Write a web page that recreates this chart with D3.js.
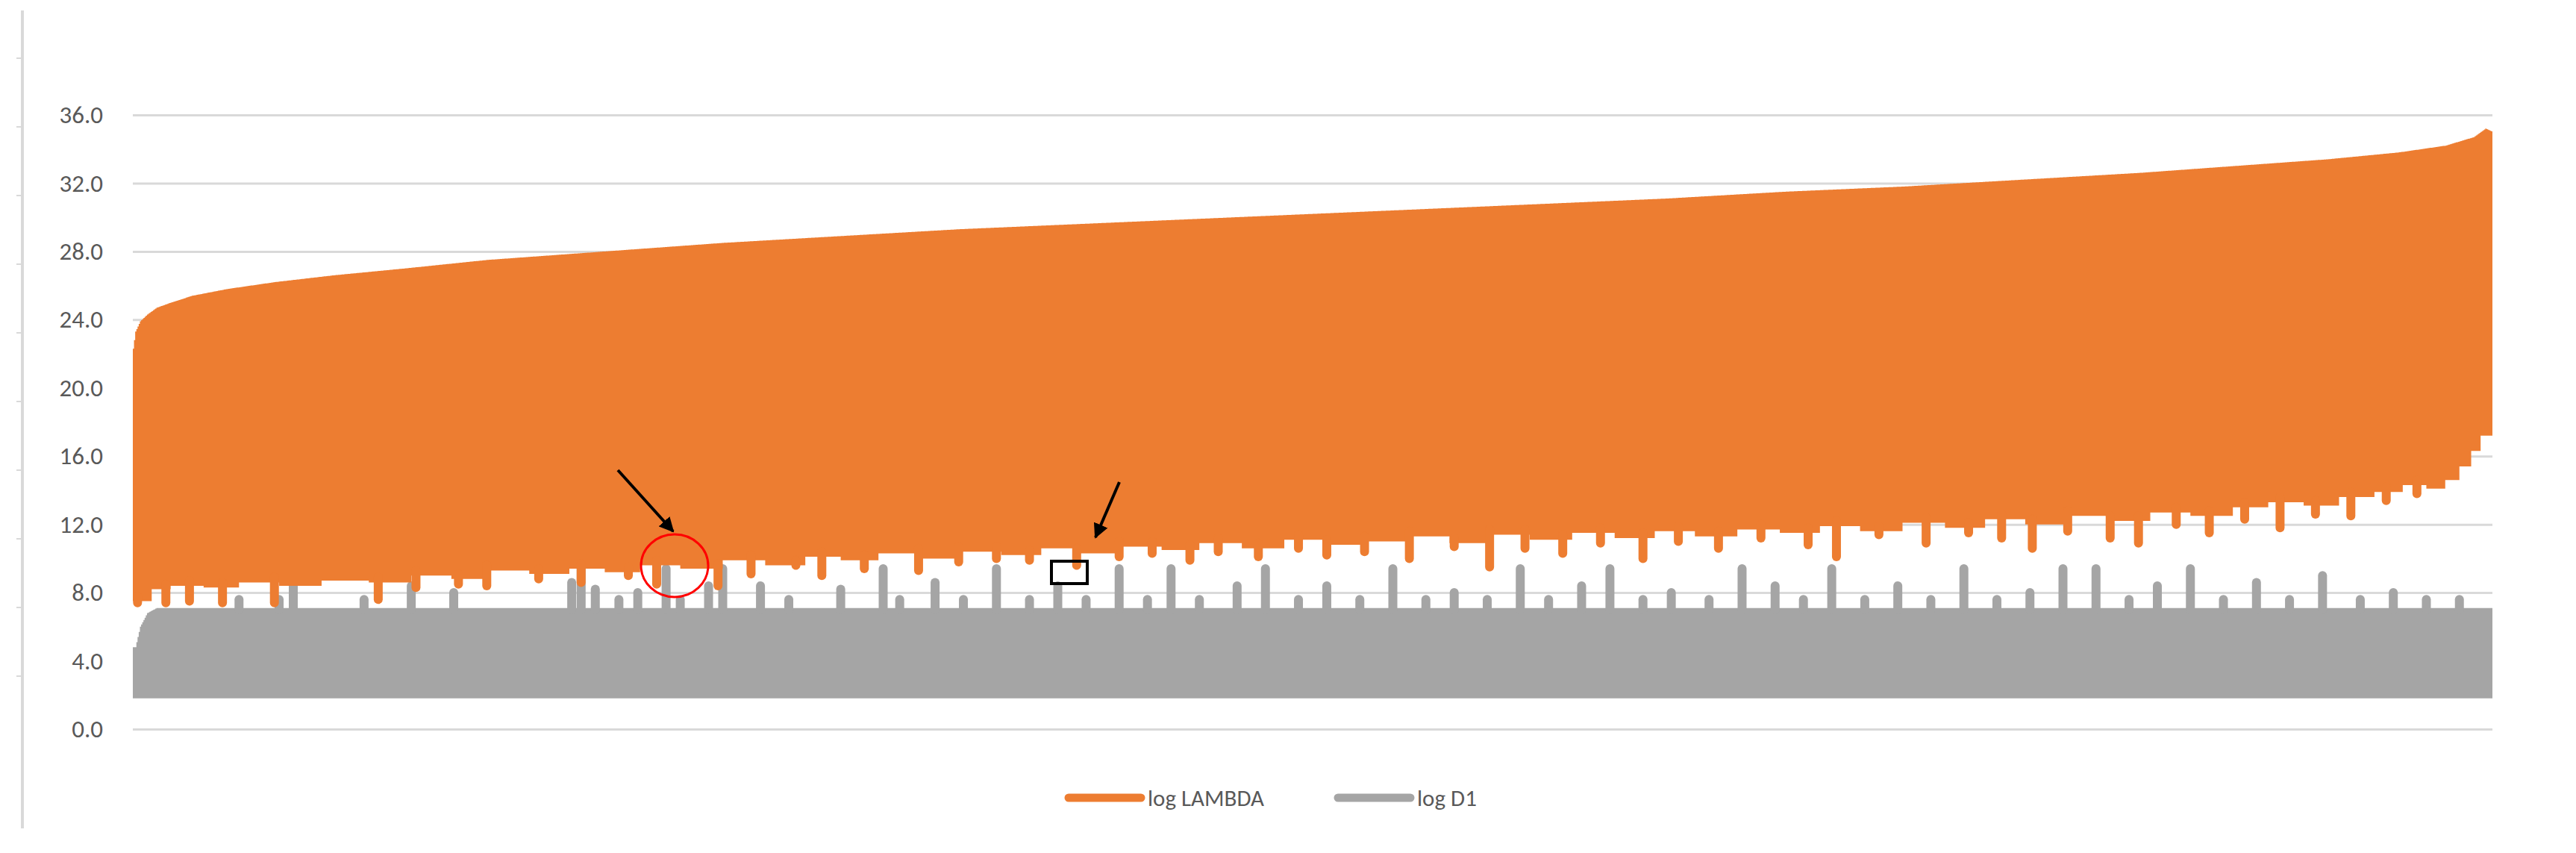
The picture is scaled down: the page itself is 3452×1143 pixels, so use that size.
<!DOCTYPE html>
<html><head><meta charset="utf-8">
<script src="https://cdn.jsdelivr.net/npm/d3@7"></script>
<style>body{margin:0;background:#fff}text{font-family:Calibri,Carlito,"Liberation Sans",sans-serif}</style>
</head><body><div class="chart"></div>
<script>
// observation index runs 0..1000
const yTicks = [0, 4, 8, 12, 16, 20, 24, 28, 32, 36];
const seriesNames = ["log LAMBDA", "log D1"];

// upper envelope of log LAMBDA
const lambdaTopIdx = [0, 1, 3, 6, 10, 16, 25, 40, 60, 85, 115, 150, 200, 250, 300, 350, 400, 450, 500, 550, 600, 650, 700, 750, 800, 850, 900, 930, 960, 980, 992, 997, 1000];
const lambdaTopVal = [22.3, 23.3, 23.9, 24.3, 24.7, 25.0, 25.4, 25.8, 26.2, 26.6, 27.0, 27.5, 28.0, 28.5, 28.9, 29.3, 29.6, 29.9, 30.2, 30.5, 30.8, 31.1, 31.5, 31.8, 32.2, 32.6, 33.1, 33.4, 33.8, 34.2, 34.7, 35.2, 35.0];
// lower envelope of log LAMBDA (plateaus, stepped)
const lambdaLowIdx = [0, 8, 16, 30, 45, 62, 80, 100, 118, 135, 150, 168, 185, 200, 215, 232, 250, 268, 285, 300, 316, 334, 350, 368, 385, 400, 418, 436, 452, 470, 488, 505, 522, 540, 558, 575, 592, 610, 628, 645, 662, 680, 698, 715, 732, 750, 768, 785, 802, 820, 838, 855, 872, 890, 905, 920, 935, 950, 962, 972, 980, 986, 991, 995, 1000];
const lambdaLowVal = [7.5, 8.2, 8.4, 8.3, 8.6, 8.4, 8.7, 8.6, 9.0, 8.8, 9.3, 9.1, 9.4, 9.2, 9.6, 9.4, 9.9, 9.6, 10.1, 9.9, 10.3, 10.0, 10.4, 10.2, 10.6, 10.3, 10.7, 10.5, 10.9, 10.6, 11.1, 10.8, 11.0, 11.3, 10.9, 11.4, 11.1, 11.5, 11.2, 11.6, 11.3, 11.7, 11.5, 11.9, 11.6, 12.1, 11.8, 12.3, 12.0, 12.5, 12.2, 12.7, 12.5, 13.0, 13.3, 13.1, 13.6, 13.9, 14.3, 14.1, 14.6, 15.4, 16.3, 17.2, 18.5];
// narrow downward spikes of log LAMBDA [index, value]
const lambdaDipIdx = [2, 14, 24, 38, 60, 104, 120, 138, 150, 172, 190, 210, 222, 248, 262, 281, 292, 310, 333, 350, 366, 380, 400, 418, 432, 448, 460, 477, 494, 506, 522, 541, 560, 575, 590, 606, 622, 640, 655, 672, 690, 710, 722, 740, 760, 778, 792, 805, 820, 838, 850, 866, 880, 895, 910, 925, 940, 955, 968];
const lambdaDipVal = [7.4, 7.4, 7.5, 7.4, 7.4, 7.6, 8.3, 8.5, 8.4, 8.8, 8.6, 9.0, 8.5, 8.4, 9.1, 9.6, 9.0, 9.4, 9.3, 9.8, 10.0, 9.9, 9.6, 10.1, 10.3, 9.9, 10.4, 10.1, 10.6, 10.2, 10.4, 10.0, 10.7, 9.5, 10.6, 10.3, 10.9, 10.0, 11.0, 10.6, 11.2, 10.8, 10.1, 11.4, 10.9, 11.5, 11.2, 10.6, 11.6, 11.2, 10.9, 12.0, 11.5, 12.3, 11.8, 12.6, 12.5, 13.4, 13.8];

// log D1: band from bottom to a baseline, with upward spikes
const d1Bottom = 1.8;
const d1BaseIdx = [0, 1, 3, 6, 10, 1000];
const d1BaseVal = [4.8, 4.8, 6.0, 6.8, 7.1, 7.1];
const d1SpikeIdx = [45, 62, 68, 98, 118, 136, 186, 190, 196, 206, 214, 226, 232, 244, 250, 266, 278, 300, 318, 325, 340, 352, 366, 380, 392, 404, 418, 430, 440, 452, 468, 480, 494, 506, 520, 534, 548, 560, 574, 588, 600, 614, 626, 640, 652, 668, 682, 696, 708, 720, 734, 748, 762, 776, 790, 804, 818, 832, 846, 858, 872, 886, 900, 914, 928, 944, 958, 972, 986];
const d1SpikeVal = [7.6, 7.6, 8.4, 7.6, 8.4, 8.0, 8.6, 9.4, 8.2, 7.6, 8.0, 9.4, 7.6, 8.4, 9.4, 8.4, 7.6, 8.2, 9.4, 7.6, 8.6, 7.6, 9.4, 7.6, 8.4, 7.6, 9.4, 7.6, 9.4, 7.6, 8.4, 9.4, 7.6, 8.4, 7.6, 9.4, 7.6, 8.0, 7.6, 9.4, 7.6, 8.4, 9.4, 7.6, 8.0, 7.6, 9.4, 8.4, 7.6, 9.4, 7.6, 8.4, 7.6, 9.4, 7.6, 8.0, 9.4, 9.4, 7.6, 8.4, 9.4, 7.6, 8.6, 7.6, 9.0, 7.6, 8.0, 7.6, 7.6];

const W = 3452, H = 1143;
const margin = {top: 154, left: 178, right: 112, bottom: 166};
const orange = "#ED7D31", gray = "#A5A5A5";

const svg = d3.select(".chart").append("svg").attr("width", W).attr("height", H);

const x = d3.scaleLinear().domain([0, 1000]).range([margin.left, W - margin.right]);
const y = d3.scaleLinear().domain([0, 36]).range([H - margin.bottom, margin.top]);

// left frame line with small ticks
svg.append("line").attr("x1", 30).attr("x2", 30).attr("y1", 14).attr("y2", 1110)
  .attr("stroke", "#d9d9d9").attr("stroke-width", 4);
svg.append("g").selectAll("line").data(d3.range(0, 10)).join("line")
  .attr("x1", 22).attr("x2", 30)
  .attr("y1", i => 78 + i * 92).attr("y2", i => 78 + i * 92)
  .attr("stroke", "#d9d9d9").attr("stroke-width", 2);

// gridlines + labels
const yAxis = d3.axisLeft(y).tickValues(yTicks).tickSize(-(W - margin.left - margin.right)).tickFormat(d3.format(".1f")).tickPadding(40);
const ga = svg.append("g").attr("transform", `translate(${margin.left},0)`).call(yAxis);
ga.select(".domain").remove();
ga.selectAll(".tick line").attr("stroke", "#d9d9d9").attr("stroke-width", 3);
ga.selectAll(".tick text").attr("fill", "#595959").style("font-size", "33px");

const interp = (idx, val) => i => {
  const j = Math.max(1, Math.min(idx.length - 1, d3.bisectRight(idx, i)));
  const t = (i - idx[j - 1]) / (idx[j] - idx[j - 1]);
  return val[j - 1] + (val[j] - val[j - 1]) * Math.max(0, Math.min(1, t));
};
const stepF = (idx, val) => i => val[Math.max(0, d3.bisectRight(idx, i) - 1)];
const topF = interp(lambdaTopIdx, lambdaTopVal);
const lowF = stepF(lambdaLowIdx, lambdaLowVal);
const baseF = interp(d1BaseIdx, d1BaseVal);
const xs = d3.range(0, 1000.5, 0.5);

// log D1 band
svg.append("path").attr("fill", gray)
  .attr("d", d3.area().x(i => x(i)).y0(y(d1Bottom)).y1(i => y(baseF(i))).curve(d3.curveStepAfter)(xs));
svg.append("g").selectAll("line").data(d1SpikeIdx).join("line")
  .attr("x1", d => x(d)).attr("x2", d => x(d))
  .attr("y1", y(7.0)).attr("y2", (d, k) => y(d1SpikeVal[k]))
  .attr("stroke", gray).attr("stroke-width", 12).attr("stroke-linecap", "round");

// log LAMBDA band
svg.append("path").attr("fill", orange)
  .attr("d", d3.area().x(i => x(i)).y0(i => y(lowF(i))).y1(i => y(topF(i))).curve(d3.curveStepAfter)(xs));
svg.append("g").selectAll("line").data(lambdaDipIdx).join("line")
  .attr("x1", d => x(d)).attr("x2", d => x(d))
  .attr("y1", d => y(lowF(d) + 0.3)).attr("y2", (d, k) => y(lambdaDipVal[k]))
  .attr("stroke", orange).attr("stroke-width", 12).attr("stroke-linecap", "round");

// annotations
svg.append("defs").append("marker").attr("id", "ah").attr("viewBox", "0 0 10 10")
  .attr("refX", 9).attr("refY", 5).attr("markerWidth", 5).attr("markerHeight", 5).attr("orient", "auto")
  .append("path").attr("d", "M0,0L10,5L0,10z").attr("fill", "#000");
svg.append("line").attr("x1", 828).attr("y1", 630).attr("x2", 902).attr("y2", 712)
  .attr("stroke", "#000").attr("stroke-width", 4).attr("marker-end", "url(#ah)");
svg.append("line").attr("x1", 1500).attr("y1", 646).attr("x2", 1468).attr("y2", 720)
  .attr("stroke", "#000").attr("stroke-width", 4).attr("marker-end", "url(#ah)");
svg.append("ellipse").attr("cx", 904).attr("cy", 758).attr("rx", 45).attr("ry", 42)
  .attr("fill", "none").attr("stroke", "#ff0000").attr("stroke-width", 3);
svg.append("rect").attr("x", 1409).attr("y", 752).attr("width", 48).attr("height", 30)
  .attr("fill", "none").attr("stroke", "#000").attr("stroke-width", 4);

// legend
const lg = svg.append("g").selectAll("g").data(seriesNames).join("g")
  .attr("transform", (d, i) => `translate(${1432 + i * 361},1069)`);
lg.append("line").attr("x1", 0).attr("x2", 97)
  .attr("stroke", (d, i) => i ? gray : orange).attr("stroke-width", 11).attr("stroke-linecap", "round");
lg.append("text").attr("x", 106).attr("dy", "0.35em").text(d => d)
  .attr("fill", "#595959").style("font-size", "31px");
</script></body></html>
